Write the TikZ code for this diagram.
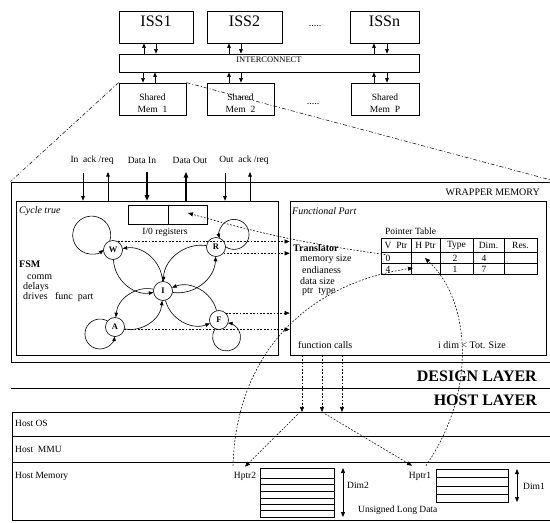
\documentclass[tikz,border=0pt]{standalone}
\usepackage{fontspec}
\setmainfont{Liberation Serif}
\usetikzlibrary{arrows.meta,calc,fit}
\begin{document}
\begin{tikzpicture}[x=1pt,y=-1pt,
  frame/.style={draw,line width=0.8pt,inner sep=0pt},
  thin/.style={draw,line width=0.6pt,inner sep=0pt},
  bus/.style={line width=0.6pt,-{Triangle[length=4.5pt,width=3.6pt]}},
  busthick/.style={line width=1.1pt,-{Triangle[length=5.5pt,width=4.5pt]}},
  dd/.style={line width=0.55pt,dash pattern=on 1.8pt off 1.6pt},
  ddarr/.style={dd,-{Triangle[length=5pt,width=4pt]}},
  dashdot/.style={line width=0.5pt,dash pattern=on 4pt off 2pt on 1pt off 2pt},
  st/.style={draw,circle,line width=0.6pt,minimum size=19pt,inner sep=0pt,font=\fontsize{8.5}{9}\selectfont\bfseries},
  fsmarr/.style={line width=0.6pt,-{Triangle[length=4.5pt,width=3.6pt]}},
  txt/.style={inner sep=0pt,font=\fontsize{#1}{#1}\selectfont},
  txt/.default=9.5,
  ltxt/.style={txt=#1,anchor=west},
  ltxt/.default=9.5,
  dimarr/.style={line width=0.7pt,{Triangle[length=5pt,width=4pt]}-{Triangle[length=5pt,width=4pt]}},
  rowline/.style={line width=0.6pt},
]
\useasboundingbox (0,0) rectangle (550,523);
\clip (0,0) rectangle (550,523);

% ---------------- top system ----------------
\node[frame,fit={(119,11) (193,43)},font=\fontsize{16}{16}\selectfont] (iss1) {ISS1};
\node[frame,fit={(207,11) (282,43)},font=\fontsize{16}{16}\selectfont] (iss2) {ISS2};
\node[frame,fit={(350,11) (419,43)},font=\fontsize{16}{16}\selectfont] (issn) {ISSn};
\node[txt=10,anchor=base] (dots1) at (315,26) {.....};
\node[frame,fit={(119,54) (419,72)},font=\fontsize{8.5}{8.5}\selectfont] (ic) {INTERCONNECT};
\node[frame,fit={(119,83) (186,115)}] (sm1) {};
\node[frame,fit={(207,83) (274,115)}] (sm2) {};
\node[frame,fit={(351,83) (419,115)}] (smp) {};
\node[inner sep=0pt,align=center,font=\fontsize{9.5}{12}\selectfont] (sm1t) at ([yshift=-4pt]sm1.center) {Shared\\Mem\ \ 1};
\node[inner sep=0pt,align=center,font=\fontsize{9.5}{12}\selectfont] (sm2t) at ([yshift=-4pt]sm2.center) {Shared\\Mem\ \ 2};
\node[inner sep=0pt,align=center,font=\fontsize{9.5}{12}\selectfont] (smpt) at ([yshift=-4pt]smp.center) {Shared\\Mem\ \ P};
\node[txt=10,anchor=base] (dots2) at (313,104) {.....};

\draw[bus] (ic.north -| 144,0) -- (iss1.south -| 144,0);
\draw[bus] (iss1.south -| 156,0) -- (ic.north -| 156,0);
\draw[bus] (ic.north -| 229,0) -- (iss2.south -| 229,0);
\draw[bus] (iss2.south -| 241,0) -- (ic.north -| 241,0);
\draw[bus] (ic.north -| 374,0) -- (issn.south -| 374,0);
\draw[bus] (issn.south -| 387,0) -- (ic.north -| 387,0);

\draw[bus] (ic.south -| 143,0) -- (sm1.north -| 143,0);
\draw[bus] (sm1.north -| 155,0) -- (ic.south -| 155,0);
\draw[bus] (sm2.north -| 229,0) -- (ic.south -| 229,0);
\draw[bus] (ic.south -| 241,0) -- (sm2.north -| 241,0);
\draw[bus] (smp.north -| 374,0) -- (ic.south -| 374,0);
\draw[bus] (ic.south -| 387,0) -- (smp.north -| 387,0);

% ---------------- wrapper ----------------
\node[frame,line width=1pt,fit={(11,182) (556,362)}] (wrap) {};
\draw[dashdot] (sm1.north west) -- (wrap.north west);
\draw[dashdot] (sm1.north east) -- (wrap.north east);
\node[txt=10,anchor=east] (wmt) at (540,192) {WRAPPER MEMORY};

\node[thin,fit={(16,201) (278,355)}] (ct) {};
\node[thin,fit={(290,201) (546,355)}] (fp) {};

% signals
\node[txt=9.5] (l1) at (92,160) {In\ \ ack /req};
\node[txt=9.5] (l2) at (142,160) {Data In};
\node[txt=9.5] (l3) at (190,160) {Data Out};
\node[txt=9.5] (l4) at (244,160) {Out\ \ ack /req};
\coordinate (s1) at (83,173);
\coordinate (s2) at (108,172);
\coordinate (s3) at (147,172);
\coordinate (s4) at (186,172);
\coordinate (s5) at (225,173);
\coordinate (s6) at (250,172);
\draw[bus] (s1) -- (ct.north -| s1);
\draw[bus] (ct.north -| s2) -- (s2);
\draw[busthick] (s3) -- (ct.north -| s3);
\draw[busthick] (ct.north -| s4) -- (s4);
\draw[bus] (s5) -- (ct.north -| s5);
\draw[bus] (ct.north -| s6) -- (s6);

% cycle true part
\node[ltxt=10,font=\fontsize{10}{10}\selectfont\itshape] (ctt) at (19,211) {Cycle true};
\node[thin,fit={(128,205) (207,224)}] (io) {};
\draw[line width=0.6pt] (io.north -| 168,0) -- (io.south -| 168,0);
\node[txt=9.5] (iol) at (165,232) {I/0 registers};

\node[ltxt=10,font=\fontsize{10}{10}\selectfont\bfseries] (fsm) at (19,264) {FSM};
\node[ltxt=10] (f1) at (27,277) {comm};
\node[ltxt=10] (f2) at (23,287) {delays};
\node[ltxt=10] (f3) at (23,297) {drives\ \ \ func\ \ part};

\node[st] (W) at (113,250) {W};
\node[st] (R) at (216,247) {R};
\node[st] (I) at (163,291) {I};
\node[st] (A) at (115,327) {A};
\node[st] (F) at (219,320) {F};

\draw[fsmarr] (I) to[bend right=48] (W);
\draw[fsmarr] (W) to[bend right=48] (I);
\draw[fsmarr] (R) to[bend right=48] (I);
\draw[fsmarr] (I) to[bend right=48] (R);
\draw[fsmarr] (I) to[bend right=48] (A);
\draw[fsmarr] (A) to[bend right=48] (I);
\draw[fsmarr] (I) to[bend right=48] (F);
\draw[fsmarr] (F) to[bend right=48] (I);

% self loops (round)
\coordinate (Wc) at ($(W)+(145:26pt)$);
\coordinate (Rc) at ($(R)+(35:22pt)$);
\coordinate (Ac) at ($(A)+(205:16.6pt)$);
\coordinate (Fc) at ($(F)+(-66:18.6pt)$);
\draw[fsmarr] (Wc) ++(-18.4:19pt) arc[start angle=-18.4, end angle=308.4, radius=19pt];
\draw[fsmarr] (Rc) ++(235.4:15pt) arc[start angle=235.4, end angle=554.6, radius=15pt];
\draw[fsmarr] (Ac) ++(59.5:15pt) arc[start angle=59.5, end angle=350.5, radius=15pt];
\draw[fsmarr] (Fc) ++(143.7:14pt) arc[start angle=143.7, end angle=443.9, radius=14pt];

\draw[ddarr] (W.60) -- (W.60 -| fp.west);
\draw[ddarr] (R.-40) -- (R.-40 -| fp.west);
\draw[ddarr] (F.45) -- (F.45 -| fp.west);
\draw[ddarr] (A.-15) -- (A.-15 -| fp.west);

% functional part
\node[ltxt=10,font=\fontsize{10}{10}\selectfont\itshape] (fpt) at (292,211) {Functional Part};
\node[ltxt=10,font=\fontsize{10}{10}\selectfont\bfseries] (tr) at (293,248) {Translator};
\node[ltxt=10] (t1) at (300,259) {memory size};
\node[ltxt=10] (t2) at (302,270) {endianess};
\node[ltxt=10] (t3) at (300,281) {data size};
\node[ltxt=10] (t4) at (302,292) {ptr\ \ type};
\node[ltxt=10] (fc) at (298,345) {function calls};
\node[ltxt=10] (idim) at (438,345) {i dim < Tot. Size};

\node[ltxt=9.5] (ptt) at (385,231) {Pointer Table};
\draw[line width=0.7pt] (381,238) rectangle (537,274);
\draw[rowline] (381,252) -- (537,252);
\draw[rowline] (381,263) -- (537,263);
\foreach \x in {411,440,473,504}{\draw[line width=0.6pt] (\x,238) -- (\x,274);}
\node[txt=9.5] (h1) at (396,245) {V\ \ Ptr};
\node[txt=9.5] (h2) at (425.5,245) {H Ptr};
\node[txt=9.5] (h3) at (456.5,245) {Type};
\node[txt=9.5] (h4) at (488.5,245) {Dim.};
\node[txt=9.5] (h5) at (520.5,245) {Res.};
\node[txt=9.5] (v0) at (388,258) {0};
\node[txt=9.5] (v4) at (388,269) {4};
\node[txt=9.5] (c2) at (455,258) {2};
\node[txt=9.5] (c1) at (455,269) {1};
\node[txt=9.5] (d4) at (484,258) {4};
\node[txt=9.5] (d7) at (484,269) {7};
\coordinate (hp1) at (425,258);
\coordinate (hp2) at (413,268);
\coordinate (iotip) at (188,213);
\draw[ddarr] (v0.north west) to[bend left=4] (iotip);

% ---------------- layers ----------------
\draw[line width=0.9pt] (11,388) -- (556,388);
\node[anchor=east,inner sep=0pt,font=\fontsize{16}{16}\selectfont\bfseries] (dl) at (537,376) {DESIGN LAYER};
\node[anchor=east,inner sep=0pt,font=\fontsize{16}{16}\selectfont\bfseries] (hl) at (537,400) {HOST LAYER};

\node[frame,fit={(12,412) (556,520)}] (host) {};
\draw[line width=0.7pt] (host.west |- 0,436) -- (host.east |- 0,436);
\draw[line width=0.7pt] (host.west |- 0,462) -- (host.east |- 0,462);
\node[ltxt=9.5] (hos) at (15,423) {Host OS};
\node[ltxt=9.5] (hmmu) at (15,449) {Host\ \ MMU};
\node[ltxt=9.5] (hmem) at (15,476) {Host Memory};

\node[txt=9.5] (hptr2) at (245,476) {Hptr2};
\node[txt=9.5] (hptr1) at (420,476) {Hptr1};

\node[thin,fit={(260,468) (334,517)}] (blk2) {};
\foreach \y in {478,484.5,491,498,504.5,510}{\draw[line width=0.6pt] (blk2.west |- 0,\y) -- (blk2.east |- 0,\y);}
\coordinate (d2a) at (343,468);
\coordinate (d2b) at (343,517);
\draw[dimarr] (d2a) -- (d2b);
\node[ltxt=9.5] (dim2) at (347,485) {Dim2};
\node[ltxt=9.5] (uld) at (358,510) {Unsigned Long Data};

\node[thin,fit={(436,469) (508,502)}] (blk1) {};
\foreach \y in {477,486,494}{\draw[line width=0.6pt] (blk1.west |- 0,\y) -- (blk1.east |- 0,\y);}
\coordinate (d1a) at (517,469);
\coordinate (d1b) at (517,502);
\draw[dimarr] (d1a) -- (d1b);
\node[ltxt=9.5] (dim1) at (523,486) {Dim1};

% function call arrows
\coordinate (fc1) at (302,412);
\coordinate (fc2) at (322,412);
\coordinate (fc3) at (342,412);
\draw[ddarr] (fp.south -| fc1) -- (fc1);
\draw[ddarr] (fp.south -| fc2) -- (fc2);
\draw[ddarr] (fp.south -| fc3) -- (fc3);
\draw[ddarr] ([xshift=-2pt]fc1) -- ([yshift=5pt]hptr2.north);
\draw[ddarr] (fc2) -- ([xshift=-8pt,yshift=6pt]hptr1.north);

% long pointer curves
\draw[ddarr] ([xshift=6pt,yshift=6pt]hptr1.north) .. controls (478,390) and (470,300) .. (hp1);
\draw[ddarr] ([xshift=-12pt,yshift=6pt]hptr2.north) .. controls (236,360) and (300,285) .. (hp2);
\end{tikzpicture}
\end{document}
